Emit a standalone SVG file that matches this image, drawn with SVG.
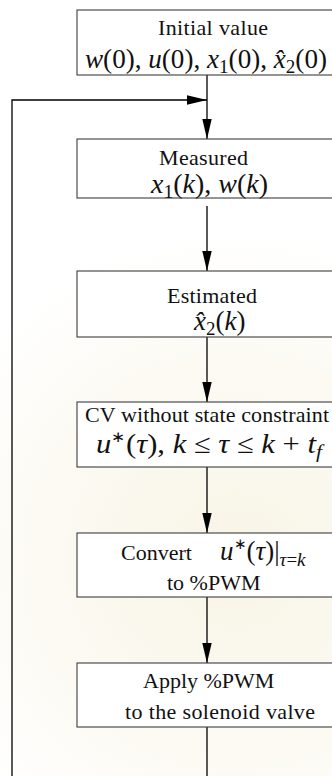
<svg xmlns="http://www.w3.org/2000/svg" width="332" height="776" viewBox="0 0 332 776">
  <defs>
    <marker id="head" markerUnits="userSpaceOnUse" markerWidth="20" markerHeight="10" refX="20" refY="5" orient="auto">
      <path d="M0,0.3 L20,5 L0,9.7 Z" fill="#000"/>
    </marker>
    <radialGradient id="tint" cx="235" cy="560" r="330" gradientUnits="userSpaceOnUse">
      <stop offset="0" stop-color="#f8f4e6"/>
      <stop offset="0.6" stop-color="#fcfaf3"/>
      <stop offset="1" stop-color="#ffffff"/>
    </radialGradient>
  </defs>
  <style>
    .box { fill: #ffffff; stroke: #3c3c3c; stroke-width: 1.1; }
    .t { font-family: "Liberation Serif", "Times New Roman", serif; font-size: 22px; fill: #111; }
    .mt { font-family: "Liberation Serif", "Times New Roman", serif; font-size: 27px; fill: #111; }
    .m { font-style: italic; }
    .s { font-size: 19px; }
    .sup { font-size: 15px; }
    .wire { fill: none; stroke: #000; stroke-width: 1.3; }
  </style>

  <rect width="332" height="776" fill="url(#tint)"/>

  <g id="connectors">
    <line class="wire" x1="207" y1="75" x2="207" y2="139" marker-end="url(#head)"/>
    <polyline class="wire" points="12,776 12,100 207,100" marker-end="url(#head)"/>
    <line class="wire" x1="207" y1="206" x2="207" y2="271" marker-end="url(#head)"/>
    <line class="wire" x1="207" y1="337" x2="207" y2="402" marker-end="url(#head)"/>
    <line class="wire" x1="207" y1="467" x2="207" y2="533" marker-end="url(#head)"/>
    <line class="wire" x1="207" y1="597" x2="207" y2="663" marker-end="url(#head)"/>
    <line class="wire" x1="207" y1="727" x2="207" y2="776"/>
  </g>

  <g id="initial">
    <rect class="box" x="77" y="10" width="262" height="65"/>
    <text class="t" x="158" y="35" textLength="110">Initial value</text>
    <text class="mt" x="85" y="68" textLength="242" lengthAdjust="spacingAndGlyphs"><tspan class="m">w</tspan>(0), <tspan class="m">u</tspan>(0), <tspan class="m">x</tspan><tspan class="s" dy="5">1</tspan><tspan dy="-5">(0), </tspan><tspan class="m">x&#770;</tspan><tspan class="s" dy="5">2</tspan><tspan dy="-5">(0)</tspan></text>
  </g>

  <g id="measured">
    <rect class="box" x="77" y="139" width="262" height="59"/>
    <text class="t" x="159" y="165" textLength="89">Measured</text>
    <text class="mt" x="151" y="193" textLength="117" lengthAdjust="spacingAndGlyphs"><tspan class="m">x</tspan><tspan class="s" dy="5">1</tspan><tspan dy="-5">(</tspan><tspan class="m">k</tspan>), <tspan class="m">w</tspan>(<tspan class="m">k</tspan>)</text>
  </g>

  <g id="estimated">
    <rect class="box" x="77" y="271" width="262" height="66"/>
    <text class="t" x="167" y="303" textLength="90">Estimated</text>
    <text class="mt" x="194" y="330"><tspan class="m">x&#770;</tspan><tspan class="s" dy="5">2</tspan><tspan dy="-5">(</tspan><tspan class="m">k</tspan>)</text>
  </g>

  <g id="control">
    <rect class="box" x="77" y="402" width="262" height="65"/>
    <text class="t" x="85" y="422" textLength="244">CV without state constraint</text>
    <text class="mt" x="96" y="453" textLength="226" lengthAdjust="spacingAndGlyphs"><tspan class="m">u</tspan><tspan class="sup" dy="-11">&#8727;</tspan><tspan dy="11">(</tspan><tspan class="m">&#964;</tspan>), <tspan class="m">k</tspan> &#8804; <tspan class="m">&#964;</tspan> &#8804; <tspan class="m">k</tspan> + <tspan class="m">t</tspan><tspan class="s m" dy="5">f</tspan></text>
  </g>

  <g id="convert">
    <rect class="box" x="77" y="533" width="262" height="64"/>
    <text class="t" x="121" y="560">Convert</text>
    <text class="mt" x="220" y="560"><tspan class="m">u</tspan><tspan class="sup" dy="-11">&#8727;</tspan><tspan dy="11">(</tspan><tspan class="m">&#964;</tspan>)|<tspan class="s" dy="6"><tspan class="m">&#964;</tspan>=<tspan class="m">k</tspan></tspan></text>
    <text class="t" x="167" y="590">to %PWM</text>
  </g>

  <g id="apply">
    <rect class="box" x="77" y="663" width="262" height="64"/>
    <text class="t" x="143" y="688">Apply %PWM</text>
    <text class="t" x="125" y="719" textLength="190">to the solenoid valve</text>
  </g>
</svg>
